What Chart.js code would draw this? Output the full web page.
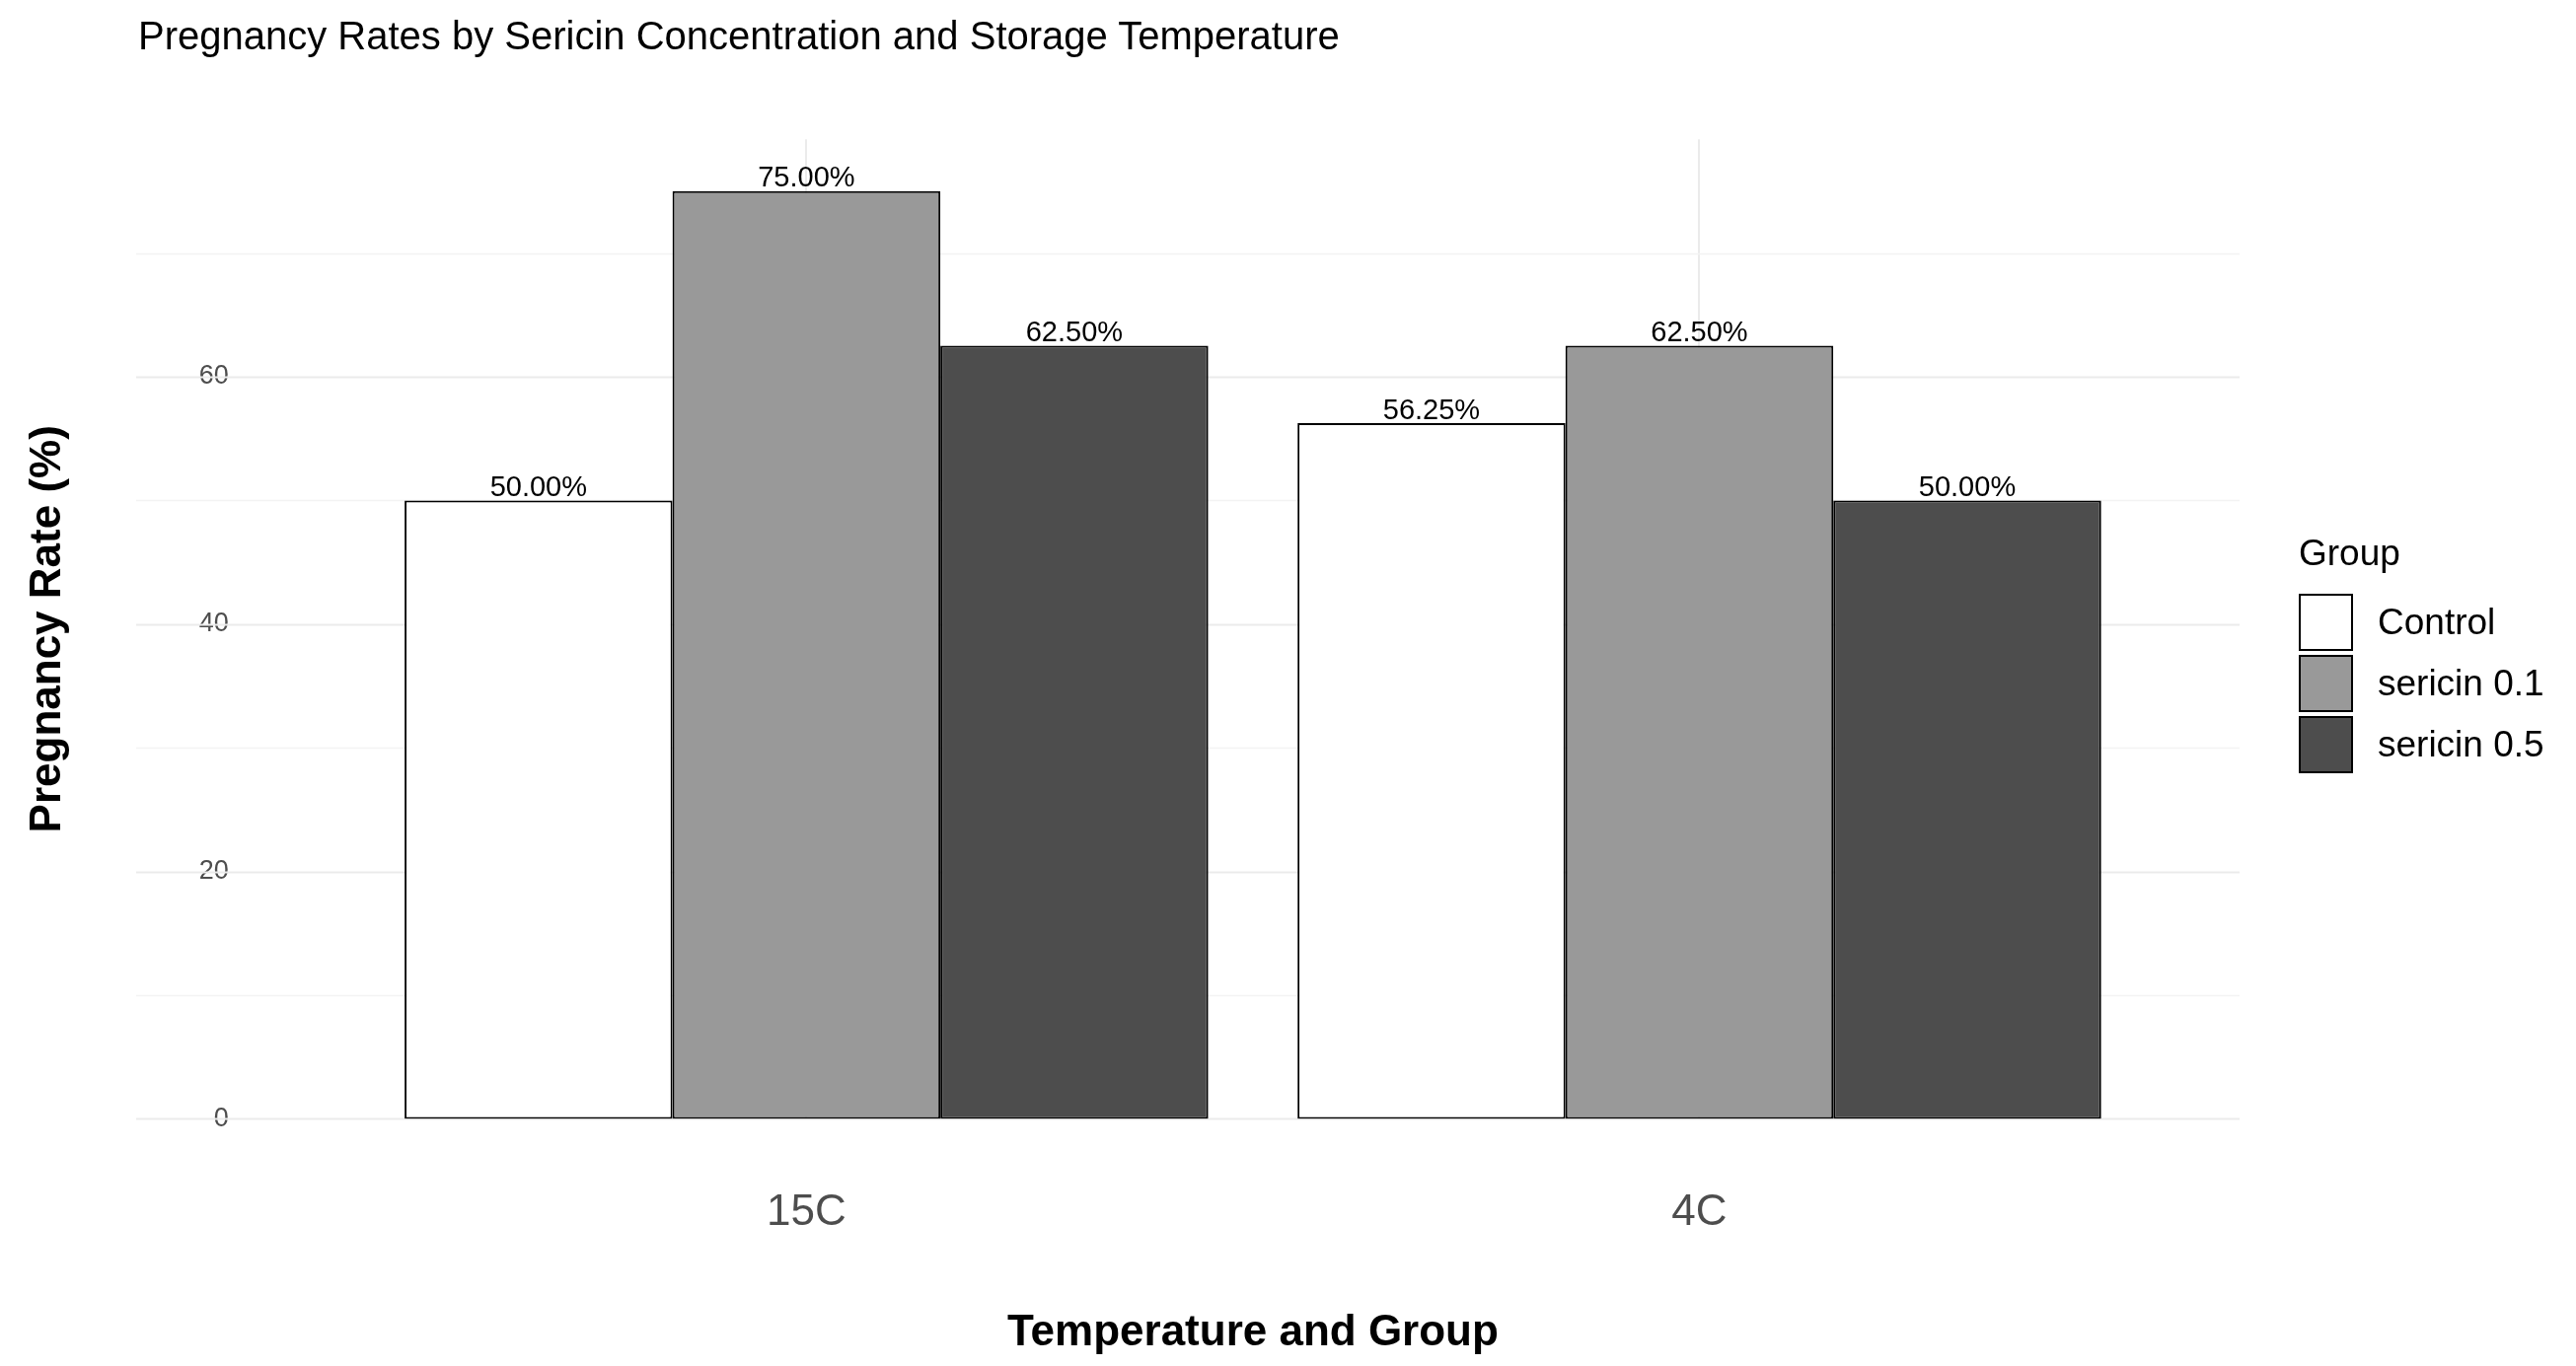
<!DOCTYPE html>
<html><head><meta charset="utf-8">
<script src="https://cdn.jsdelivr.net/npm/chart.js@4"></script>
<style>
html,body{margin:0;background:#fff;}
#wrap{position:relative;width:2611px;height:1385px;}
#title{position:absolute;left:140px;top:14px;font-family:Arial,"Liberation Sans",sans-serif;font-size:40px;color:#000;}
#legend{position:absolute;left:2330px;top:540px;font-family:Arial,"Liberation Sans",sans-serif;}
#legend .t{font-size:37px;color:#000;margin-bottom:18px;}
#legend .row{display:flex;align-items:center;height:62px;font-size:37px;}
#legend .sw{width:55px;height:58px;border:2px solid #000;box-sizing:border-box;margin-right:25px;}
</style></head>
<body><div id="wrap"><canvas id="c" width="2611" height="1385"></canvas>
<div id="title">Pregnancy Rates by Sericin Concentration and Storage Temperature</div>
<div id="legend"></div></div>
<script>
/* ─── Datos ─── */
const CATEGORIES = ['15C', '4C'];
const GROUPS = ['Control', 'sericin 0.1', 'sericin 0.5'];
const COLORS = ['#FFFFFF', '#999999', '#4D4D4D'];
const CONTROL = [50.00, 56.25];
const SERICIN_01 = [75.00, 62.50];
const SERICIN_05 = [62.50, 50.00];
const SERIES = [CONTROL, SERICIN_01, SERICIN_05];
const Y_TICKS = [0, 20, 40, 60];
const Y_GRID = [0, 10, 20, 30, 40, 50, 60, 70];

const FONT = 'Arial, "Liberation Sans", sans-serif';
const PANEL_LEFT = 138, PANEL_RIGHT = 2270;

/* ─── Rejilla horizontal a lo ancho del panel ─── */
const panelGrid = {
  id: 'panelGrid',
  beforeDatasetsDraw(chart) {
    const ctx = chart.ctx, y = chart.scales.y;
    ctx.save();
    Y_GRID.forEach(v => {
      const major = v % 20 === 0;
      ctx.strokeStyle = major ? '#EBEBEB' : '#F3F3F3';
      ctx.lineWidth = major ? 2 : 1.5;
      const py = Math.round(y.getPixelForValue(v)) + 0.5;
      ctx.beginPath(); ctx.moveTo(PANEL_LEFT, py); ctx.lineTo(PANEL_RIGHT, py); ctx.stroke();
    });
    ctx.restore();
  },
};

/* ─── Etiquetas sobre las barras ─── */
const barLabels = {
  id: 'barLabels',
  afterDatasetsDraw(chart) {
    const ctx = chart.ctx;
    ctx.save();
    ctx.font = `29px ${FONT}`;
    ctx.fillStyle = '#000';
    ctx.textAlign = 'center';
    ctx.textBaseline = 'bottom';
    chart.data.datasets.forEach((ds, i) => {
      chart.getDatasetMeta(i).data.forEach((bar, j) => {
        ctx.fillText(ds.data[j].toFixed(2) + '%', bar.x, bar.y + 2);
      });
    });
    ctx.restore();
  },
};

new Chart(document.getElementById('c'), {
  type: 'bar',
  data: {
    labels: CATEGORIES,
    datasets: GROUPS.map((g, i) => ({
      label: g,
      data: SERIES[i],
      backgroundColor: COLORS[i],
      borderColor: '#000',
      borderWidth: 2,
      borderSkipped: false,
      categoryPercentage: 0.9,
      barPercentage: 1,
    })),
  },
  options: {
    responsive: false,
    animation: false,
    layout: { padding: { left: 20, right: 436, top: 80, bottom: 7 } },
    plugins: { legend: { display: false }, tooltip: { enabled: false } },
    scales: {
      x: {
        offset: true,
        ticks: { color: '#4D4D4D', font: { family: FONT, size: 44 }, padding: 69 },
        grid: { offset: false, color: '#EBEBEB', lineWidth: 2, drawTicks: false },
        border: { display: false },
        title: { display: true, text: 'Temperature and Group', color: '#000', font: { family: FONT, size: 44, weight: 'bold' }, padding: 0 },
      },
      y: {
        min: 0, max: 79.2,
        afterBuildTicks: s => { s.ticks = Y_GRID.map(v => ({ value: v })); },
        ticks: { callback: v => Y_TICKS.includes(v) ? String(v) : '', color: '#4D4D4D', font: { family: FONT, size: 27 }, padding: 125 },
        grid: { display: false },
        border: { display: false },
        title: { display: true, text: 'Pregnancy Rate (%)', color: '#000', font: { family: FONT, size: 44, weight: 'bold' }, padding: 2 },
      },
    },
  },
  plugins: [panelGrid, barLabels],
});

/* ─── Leyenda ─── */
document.getElementById('legend').innerHTML = '<div class="t">Group</div>' +
  GROUPS.map((g, i) => `<div class="row"><div class="sw" style="background:${COLORS[i]}"></div>${g}</div>`).join('');
</script></body></html>
